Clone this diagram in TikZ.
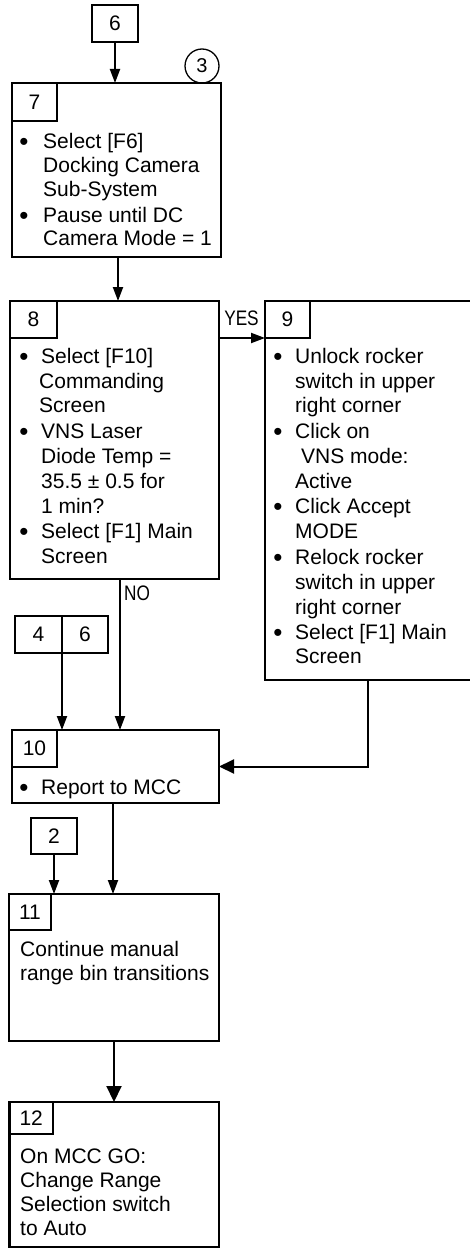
\documentclass[tikz,border=0pt]{standalone}
\usepackage{fontspec}
\setmainfont{Liberation Sans}
\usetikzlibrary{arrows.meta}
\begin{document}
\begin{tikzpicture}[x=1pt,y=-1pt,
  every node/.style={font=\fontsize{21}{25}\selectfont},
  box/.style={draw, line width=2.4pt, anchor=north west, inner sep=0pt, outer sep=0pt},
  tab/.style={draw, line width=1.3pt, anchor=north west, inner sep=0pt, outer sep=0pt},
  refbox/.style={draw, line width=1.7pt, anchor=north west, inner sep=0pt, outer sep=0pt},
  txt/.style={anchor=base west, inner sep=0pt},
  bul/.style={anchor=base, inner sep=0pt, font=\fontsize{26}{26}\selectfont},
  lbl/.style={anchor=base, inner sep=0pt},
  arr/.style={line width=2pt, -{Triangle[length=14pt,width=10pt]}},
  bigarr/.style={line width=2pt, -{Triangle[length=15pt,width=14pt]}}]
\useasboundingbox (0,0) rectangle (470,1249);
\newcommand{\bdot}{\raisebox{-1.9pt}{•}}

% top reference
\node[refbox, minimum width=46pt, minimum height=37pt] (r6) at (92,5) {6};
\node[draw, circle, line width=1.3pt, minimum size=34pt, inner sep=0pt, font=\fontsize{20}{24}\selectfont] (c3) at (202,66) {3};

% box 7
\node[box, minimum width=209pt, minimum height=174pt] (b7) at (12,83) {};
\node[tab, minimum width=45pt, minimum height=38pt] (n7) at (b7.north west) {7};
\node[bul] (b7d1) at (24,148.5) {\bdot};
\node[bul] (b7d2) at (24,222.5) {\bdot};
\foreach \t/\yy [count=\i] in {{Select [F6]}/148.5,{Docking Camera}/172.5,{Sub-System}/196.5,{Pause until DC}/222.5,{Camera Mode = 1}/245.5}
  \node[txt] (b7l\i) at (43,\yy) {\t};

% box 8
\node[box, minimum width=209pt, minimum height=278pt] (b8) at (10,301) {};
\node[tab, minimum width=47pt, minimum height=37pt] (n8) at (b8.north west) {8};
\node[bul] (b8d1) at (24,363.5) {\bdot};
\node[bul] (b8d2) at (24,438.5) {\bdot};
\node[bul] (b8d3) at (24,538.5) {\bdot};
\foreach \t/\xx/\yy [count=\i] in {{Select [F10]}/41/363.5,{Commanding}/39/388.5,{Screen}/39/412.5,{VNS Laser}/41/438.5,{Diode Temp =}/41/463.5,{35.5 ± 0.5 for}/41/488.5,{1 min?}/41/513.5,{Select [F1] Main}/41/538.5,{Screen}/41/563.5}
  \node[txt] (b8l\i) at (\xx,\yy) {\t};

% box 9 (its right side lies beyond the picture's edge)
\node[anchor=north west, inner sep=0pt, outer sep=0pt, minimum width=220pt, minimum height=379pt] (b9) at (265,301) {};
\draw[line width=2.4pt] (b9.north east) -- (b9.north west) -- (b9.south west) -- (b9.south east);
\node[tab, minimum width=45pt, minimum height=37pt] (n9) at (b9.north west) {9};
\node[bul] (b9d1) at (278,363.5) {\bdot};
\node[bul] (b9d2) at (278,438.5) {\bdot};
\node[bul] (b9d3) at (278,513.5) {\bdot};
\node[bul] (b9d4) at (278,564.5) {\bdot};
\node[bul] (b9d5) at (278,639.5) {\bdot};
\foreach \t/\xx/\yy [count=\i] in {{Unlock rocker}/295/363.5,{switch in upper}/295/388.5,{right corner}/295/412.5,{Click on}/295/438.5,{VNS mode:}/301/463.5,{Active}/295/488.5,{Click Accept}/295/513.5,{MODE}/295/538.5,{Relock rocker}/295/564.5,{switch in upper}/295/589.5,{right corner}/295/614,{Select [F1] Main}/295/639.5,{Screen}/295/663.5}
  \node[txt] (b9l\i) at (\xx,\yy) {\t};
\coordinate (b9out) at (368,680);

% references 4 | 6
\node[refbox, minimum width=47pt, minimum height=37pt] (r4) at (15,616) {4};
\node[refbox, minimum width=46pt, minimum height=37pt] (r6b) at (62,616) {6};

% box 10
\node[box, minimum width=207pt, minimum height=73pt] (b10) at (12,730) {};
\node[tab, minimum width=45pt, minimum height=37pt] (n10) at (b10.north west) {10};
\node[bul] (b10d1) at (24,794.5) {\bdot};
\node[txt] (b10l1) at (41,794.5) {Report to MCC};

% reference 2
\node[refbox, minimum width=46pt, minimum height=36pt] (r2) at (31,818) {2};

% box 11
\node[box, minimum width=210pt, minimum height=147pt] (b11) at (9,894) {};
\node[tab, minimum width=42pt, minimum height=36pt] (n11) at (b11.north west) {11};
\node[txt] (b11l1) at (20,956.5) {Continue manual};
\node[txt] (b11l2) at (20,980.5) {range bin transitions};

% box 12
\node[box, minimum width=209.5pt, minimum height=145pt] (b12) at (9.5,1102) {};
\node[tab, minimum width=43.5pt, minimum height=32pt] (n12) at (b12.north west) {12};
\foreach \t/\yy [count=\i] in {{On MCC GO:}/1163.5,{Change Range}/1187.5,{Selection switch}/1211.5,{to Auto}/1235.5}
  \node[txt] (b12l\i) at (20,\yy) {\t};

% connectors
\draw[arr] (r6.south) -- (r6.south |- b7.north);
\draw[arr] ([xshift=1.5pt]b7.south) -- ([xshift=1.5pt]b7.south |- b8.north);
\draw[arr] (b8.east |- n8.south) -- (b9.west |- n8.south);
\node[lbl] (yes) at (241.5,325.5) {\scalebox{0.82}[1]{YES}};
\draw[arr] ([xshift=5.5pt]b8.south) -- ([xshift=5.5pt]b8.south |- b10.north);
\node[lbl] (no) at (137,600.5) {\scalebox{0.82}[1]{NO}};
\draw[arr] (r4.south east) -- (r4.south east |- b10.north);
\draw[bigarr] (b9out) |- (b10.east);
\draw[arr] ([xshift=-2.5pt]b10.south) -- ([xshift=-2.5pt]b10.south |- b11.north);
\draw[arr] (r2.south) -- (r2.south |- b11.north);
\draw[line width=2pt, -{Triangle[length=16pt,width=15pt]}] (b11.south) -- (b11.south |- b12.north);
\end{tikzpicture}
\end{document}
